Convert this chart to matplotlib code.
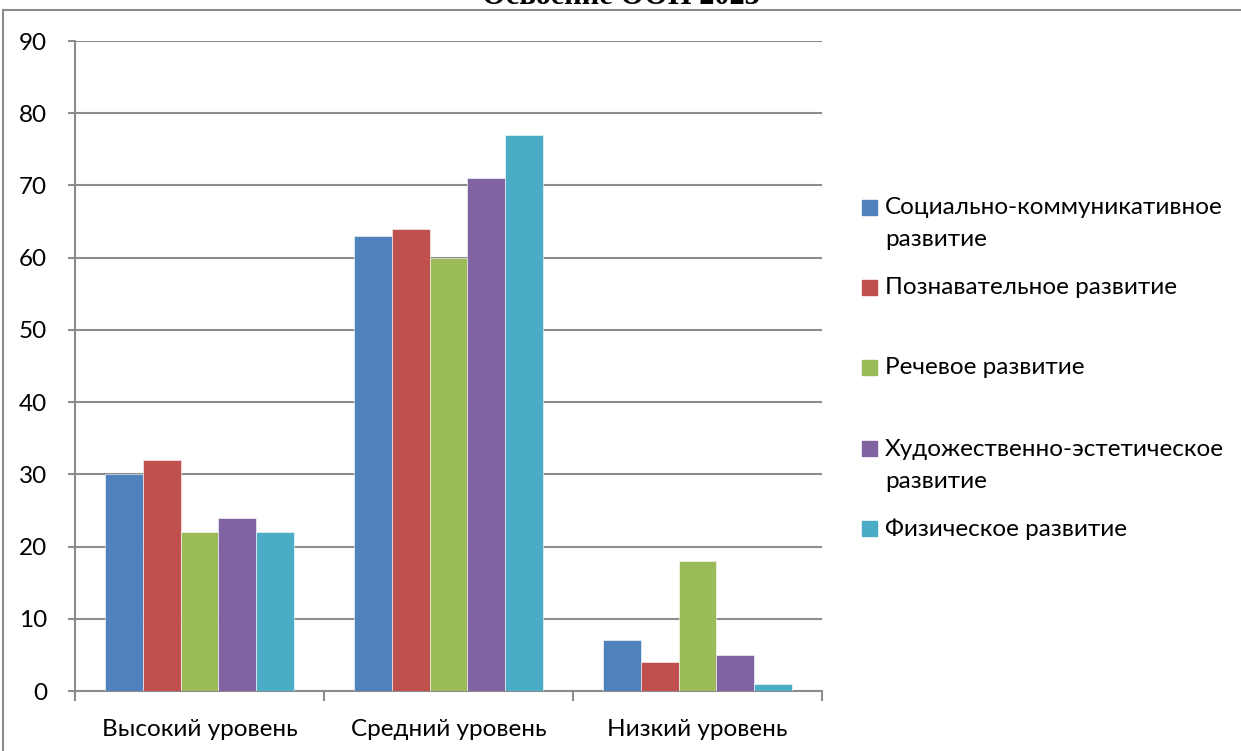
import matplotlib.pyplot as plt
import matplotlib.patches as mpatches
import numpy as np

categories = ['Высокий уровень', 'Средний уровень', 'Низкий уровень']
series_names = ['Социально-коммуникативное\nразвитие', 'Познавательное развитие',
                'Речевое развитие', 'Художественно-эстетическое\nразвитие',
                'Физическое развитие']
social = [30, 63, 7]
cognitive = [32, 64, 4]
speech = [22, 60, 18]
artistic = [24, 71, 5]
physical = [22, 77, 1]
colors = ['#4F81BD', '#C0504D', '#9BBB59', '#8064A2', '#4BACC6']

W, H = 1241, 751
fig = plt.figure(figsize=(W / 100, H / 100), dpi=100)
plt.rcParams['font.family'] = ['Lato', 'DejaVu Sans']

# outer chart frame (top and left visible)
fig.add_artist(plt.Line2D([3 / W, 3 / W], [0, 1 - 10 / H], transform=fig.transFigure, color='#8c8c8c', lw=1.5))
fig.add_artist(plt.Line2D([3 / W, 1], [1 - 10 / H, 1 - 10 / H], transform=fig.transFigure, color='#8c8c8c', lw=1.5))

# title is cropped at the top edge, as in the source picture
fig.text(0.5, 1 - 4 / H, 'Освоение ООП 2023', ha='center', va='baseline',
         family='Liberation Serif', weight='bold', fontsize=22)

ax = fig.add_axes([75 / W, 1 - 691 / H, (822 - 75) / W, (691 - 41) / H])
values = [social, cognitive, speech, artistic, physical]
x = np.arange(len(categories))
bw = 0.152
for i, vals in enumerate(values):
    ax.bar(x + (i - 2) * bw, vals, bw, color=colors[i], edgecolor='white', linewidth=0.4, zorder=3)

ax.set_xlim(-0.5, 2.5)
ax.set_ylim(0, 90)
ax.set_yticks(range(0, 91, 10))
ax.grid(axis='y', color='#8c8c8c', lw=1.5, zorder=0)
ax.set_xticks(x)
ax.set_xticklabels(categories, fontsize=17.5)
ax.tick_params(axis='x', length=0, pad=20)
ax.tick_params(axis='y', length=5, width=1.5, color='#8c8c8c', labelsize=17.5, pad=15)
for b in [-0.5, 0.5, 1.5, 2.5]:
    ax.plot([b, b], [0, -1.2], color='#8c8c8c', lw=1.5, clip_on=False)
for s in ['top', 'right']:
    ax.spines[s].set_visible(False)
for s in ['left', 'bottom']:
    ax.spines[s].set_color('#8c8c8c')
    ax.spines[s].set_linewidth(1.5)

# legend, drawn by hand to keep Excel-like spacing
legend_y = [208, 288, 368, 449, 529]
for name, c, yy in zip(series_names, colors, legend_y):
    fig.add_artist(mpatches.Rectangle((862 / W, 1 - (yy + 7) / H), 15 / W, 15 / H,
                                      transform=fig.transFigure, color=c))
    for k, line in enumerate(name.split('\n')):
        fig.text(885 / W, 1 - (yy + 32 * k) / H, line, ha='left', va='center', fontsize=17.5)

fig.savefig('out.png', dpi=100)
